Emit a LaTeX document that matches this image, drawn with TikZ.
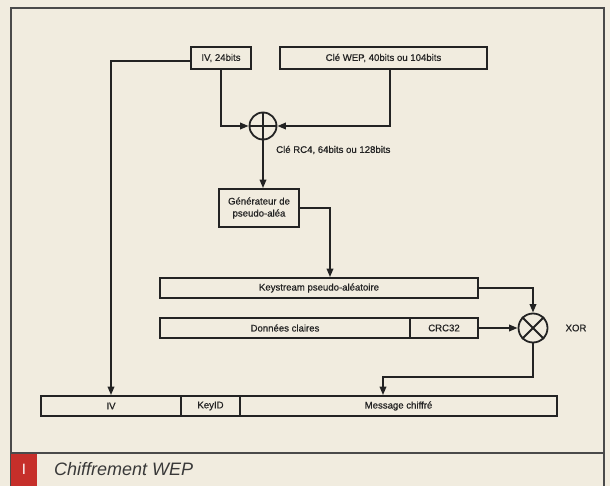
\documentclass[tikz,border=0pt]{standalone}
\usepackage{fontspec}
\setmainfont{Liberation Sans}
\newfontfamily\diagfont[FakeBold=0.6]{Liberation Sans}
\usetikzlibrary{arrows.meta,calc}
\definecolor{paper}{HTML}{F1ECDF}
\definecolor{ink}{HTML}{232323}
\definecolor{framec}{HTML}{4A4A4A}
\definecolor{capred}{HTML}{C62F2A}
\begin{document}
\begin{tikzpicture}[x=1pt,y=-1pt,
  box/.style={draw=ink, line width=1.8pt, minimum height=20pt, inner sep=0pt,
    font=\diagfont\fontsize{9.6}{11}\selectfont, text=ink},
  lbl/.style={inner sep=0pt, font=\diagfont\fontsize{9.6}{11}\selectfont, text=ink},
  opnode/.style={circle, draw=ink, line width=1.8pt, minimum size=27pt, inner sep=0pt},
  arr/.style={draw=ink, line width=1.8pt, -{Triangle[length=8.5pt,width=6.5pt]}},
  framel/.style={draw=framec, line width=1.8pt}]
\fill[paper] (0,0) rectangle (610,486);
\useasboundingbox (0,0) rectangle (610,486);
% frame
\draw[framel] (11,490) -- (11,8) -- (604,8) -- (604,490);
\draw[framel] (11,453) -- (604,453);
\fill[capred] (11,454) rectangle (37,486);
\node[inner sep=0pt, text=white, font=\fontsize{15}{17}\selectfont] (fig) at (24,469.5) {I};
\node[anchor=west, inner sep=0pt, text=ink!90, font=\fontsize{18}{21}\selectfont\itshape] (cap) at (54,469) {Chiffrement WEP};
% top boxes
\node[box, minimum width=60pt, minimum height=22pt] (iv) at (221,58) {IV, 24bits};
\node[box, minimum width=207pt, minimum height=22pt] (wep) at (383.5,58) {Clé WEP, 40bits ou 104bits};
\node[opnode] (xor1) at (263,126) {};
\draw[ink, line width=1.8pt] (xor1.north) -- (xor1.south) (xor1.west) -- (xor1.east);
\node[lbl, anchor=west] (rc4) at (276,150) {Clé RC4, 64bits ou 128bits};
\node[box, minimum width=80pt, minimum height=38pt, align=center] (gen) at (259,208) {Générateur de\\[1pt]pseudo-aléa};
\node[box, minimum width=318pt] (ks) at (319,288) {Keystream pseudo-aléatoire};
\node[box, minimum width=250pt] (data) at (285,328) {Données claires};
\node[box, minimum width=68pt] (crc) at (444,328) {CRC32};
\node[opnode, minimum size=29pt] (xor2) at (533,328) {};
\draw[ink, line width=1.8pt] (xor2.north west) -- (xor2.south east) (xor2.south west) -- (xor2.north east);
\node[lbl, anchor=west] (xorl) at ([xshift=17pt]xor2.east) {XOR};
\node[box, minimum width=140pt] (miv) at (111,406) {IV};
\node[box, minimum width=59pt] (kid) at (210.5,406) {KeyID};
\node[box, minimum width=317pt] (msg) at (398.5,406) {Message chiffré};
\coordinate (bend) at (533,377);
% connectors
\draw[arr] ([yshift=-3pt]iv.west) -| (miv.north);
\draw[arr] (iv.south) |- (xor1.west);
\draw[arr] ([xshift=6.5pt]wep.south) |- (xor1.east);
\draw[arr] (xor1.south) -- (xor1.south |- gen.north);
\draw[arr] (gen.east) -| ([xshift=11pt]ks.north);
\draw[arr] (ks.east) -| (xor2.north);
\draw[arr] (crc.east) -- (xor2.west);
\draw[arr] (xor2.south) -- (bend) -| ([xshift=-15.5pt]msg.north);
\end{tikzpicture}
\end{document}
